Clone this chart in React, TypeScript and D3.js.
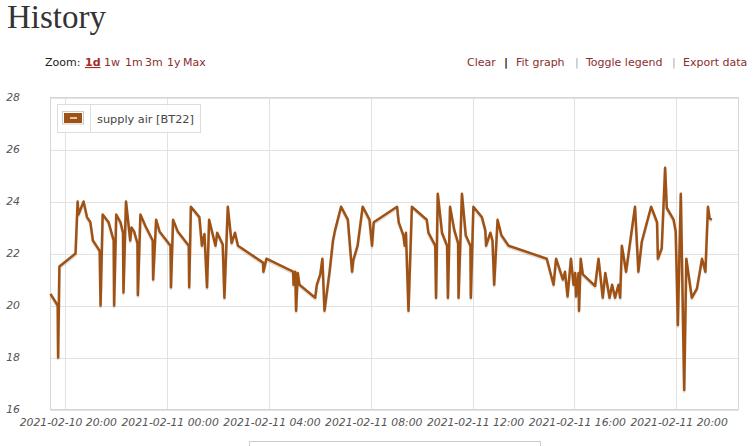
import React from "react";
import * as d3 from "d3";

const times: string[] = [
  "2021-02-10 19:25", "2021-02-10 19:42", "2021-02-10 19:43", "2021-02-10 19:46", "2021-02-10 20:24",
  "2021-02-10 20:29", "2021-02-10 20:31", "2021-02-10 20:43", "2021-02-10 20:51", "2021-02-10 20:59",
  "2021-02-10 21:05", "2021-02-10 21:21", "2021-02-10 21:23", "2021-02-10 21:28", "2021-02-10 21:42",
  "2021-02-10 21:54", "2021-02-10 21:55", "2021-02-10 22:00", "2021-02-10 22:10", "2021-02-10 22:16",
  "2021-02-10 22:17", "2021-02-10 22:23", "2021-02-10 22:33", "2021-02-10 22:36", "2021-02-10 22:42",
  "2021-02-10 22:50", "2021-02-10 22:51", "2021-02-10 22:57", "2021-02-10 23:09", "2021-02-10 23:26",
  "2021-02-10 23:27", "2021-02-10 23:34", "2021-02-10 23:42", "2021-02-11 00:08", "2021-02-11 00:09",
  "2021-02-11 00:14", "2021-02-11 00:25", "2021-02-11 00:51", "2021-02-11 00:52", "2021-02-11 00:56",
  "2021-02-11 01:16", "2021-02-11 01:22", "2021-02-11 01:28", "2021-02-11 01:34", "2021-02-11 01:39",
  "2021-02-11 01:54", "2021-02-11 01:58", "2021-02-11 02:11", "2021-02-11 02:15", "2021-02-11 02:23",
  "2021-02-11 02:32", "2021-02-11 02:40", "2021-02-11 02:47", "2021-02-11 03:46", "2021-02-11 03:47",
  "2021-02-11 03:54", "2021-02-11 04:57", "2021-02-11 04:58", "2021-02-11 05:02", "2021-02-11 05:04",
  "2021-02-11 05:08", "2021-02-11 05:12", "2021-02-11 05:49", "2021-02-11 05:53", "2021-02-11 06:01",
  "2021-02-11 06:06", "2021-02-11 06:11", "2021-02-11 06:23", "2021-02-11 06:31", "2021-02-11 06:36",
  "2021-02-11 06:50", "2021-02-11 07:06", "2021-02-11 07:16", "2021-02-11 07:19", "2021-02-11 07:29",
  "2021-02-11 07:41", "2021-02-11 07:57", "2021-02-11 08:03", "2021-02-11 08:07", "2021-02-11 09:02",
  "2021-02-11 09:06", "2021-02-11 09:17", "2021-02-11 09:20", "2021-02-11 09:23", "2021-02-11 09:29",
  "2021-02-11 09:37", "2021-02-11 10:12", "2021-02-11 10:16", "2021-02-11 10:32", "2021-02-11 10:34",
  "2021-02-11 10:38", "2021-02-11 10:48", "2021-02-11 11:00", "2021-02-11 11:02", "2021-02-11 11:07",
  "2021-02-11 11:17", "2021-02-11 11:26", "2021-02-11 11:27", "2021-02-11 11:35", "2021-02-11 11:44",
  "2021-02-11 11:55", "2021-02-11 11:56", "2021-02-11 12:02", "2021-02-11 12:22", "2021-02-11 12:30",
  "2021-02-11 12:32", "2021-02-11 12:42", "2021-02-11 12:47", "2021-02-11 12:51", "2021-02-11 12:59",
  "2021-02-11 13:08", "2021-02-11 13:25", "2021-02-11 14:55", "2021-02-11 15:11", "2021-02-11 15:17",
  "2021-02-11 15:33", "2021-02-11 15:38", "2021-02-11 15:44", "2021-02-11 15:52", "2021-02-11 15:58",
  "2021-02-11 16:02", "2021-02-11 16:04", "2021-02-11 16:10", "2021-02-11 16:11", "2021-02-11 16:15",
  "2021-02-11 16:20", "2021-02-11 16:49", "2021-02-11 16:57", "2021-02-11 17:07", "2021-02-11 17:13",
  "2021-02-11 17:23", "2021-02-11 17:29", "2021-02-11 17:36", "2021-02-11 17:44", "2021-02-11 17:48",
  "2021-02-11 17:52", "2021-02-11 18:02", "2021-02-11 18:23", "2021-02-11 18:31", "2021-02-11 18:39",
  "2021-02-11 19:01", "2021-02-11 19:15", "2021-02-11 19:17", "2021-02-11 19:26", "2021-02-11 19:34",
  "2021-02-11 19:38", "2021-02-11 19:54", "2021-02-11 19:59", "2021-02-11 20:04", "2021-02-11 20:11",
  "2021-02-11 20:19", "2021-02-11 20:24", "2021-02-11 20:37", "2021-02-11 20:49", "2021-02-11 21:01",
  "2021-02-11 21:09", "2021-02-11 21:15", "2021-02-11 21:19", "2021-02-11 21:24",
];

const supplyAir: number[] = [
  20.45, 20.0, 18.0, 21.5, 22.0,
  24.0, 23.5, 24.0, 23.4, 23.2,
  22.5, 22.1, 20.0, 23.5, 23.2,
  22.5, 20.0, 23.5, 23.2, 22.8,
  20.5, 24.0, 22.5, 23.0, 22.85,
  22.4, 20.4, 23.5, 23.05, 22.5,
  21.0, 23.3, 22.85, 22.3, 20.7,
  23.3, 22.85, 22.3, 20.7, 23.8,
  23.4, 22.3, 22.75, 20.7, 23.3,
  22.3, 22.8, 22.35, 20.3, 23.8,
  22.4, 22.8, 22.3, 21.65, 21.3,
  21.8, 21.3, 20.8, 21.3, 19.8,
  21.25, 20.8, 20.3, 20.8, 21.2,
  21.8, 19.8, 21.3, 22.5, 22.9,
  23.8, 23.3, 21.3, 21.75, 22.3,
  23.8, 23.3, 22.3, 23.2, 23.8,
  23.2, 22.7, 22.3, 22.8, 19.8,
  23.8, 23.3, 22.8, 22.3, 20.3,
  24.3, 22.8, 22.3, 20.3, 23.8,
  22.9, 22.4, 20.3, 24.3, 22.7,
  22.3, 20.3, 23.8, 23.4, 22.9,
  22.3, 22.8, 22.5, 20.8, 23.3,
  22.7, 22.3, 21.8, 20.8, 21.8,
  21.0, 21.3, 20.35, 21.8, 20.8,
  21.25, 20.35, 21.25, 19.8, 21.8,
  21.2, 20.75, 21.8, 20.3, 21.25,
  20.3, 20.8, 20.3, 20.8, 20.3,
  22.3, 21.3, 23.8, 21.3, 22.45,
  23.8, 23.2, 21.8, 22.2, 25.3,
  23.75, 23.3, 22.85, 19.25, 24.3,
  16.75, 21.8, 20.3, 20.65, 21.8,
  21.3, 23.8, 23.35, 23.3,
];

const xDomain: string[] = ["2021-02-10 19:25", "2021-02-11 22:27"];
const yDomain: number[] = [16, 28];
const yTicks: number[] = [16, 18, 20, 22, 24, 26, 28];
const seriesName = "supply air [BT22]";
const zoomLinks: string[] = ["1w", "1m", "3m", "1y", "Max"];
const actionLinks: string[] = ["Clear", "Fit graph", "Toggle legend", "Export data"];

const parse = d3.timeParse("%Y-%m-%d %H:%M");
const fmt = d3.timeFormat("%Y-%m-%d %H:%M");

export default function App() {
  const W = 754, H = 446;
  const left = 50.5, right = 738.5, top = 97.5, bottom = 409.5;
  const x = d3.scaleTime().domain(xDomain.map((s) => parse(s) as Date)).range([left, right]);
  const y = d3.scaleLinear().domain(yDomain).range([bottom, top]);
  const data = times.map((t, i) => ({ t: parse(t) as Date, v: supplyAir[i] }));
  const line = d3.line<{ t: Date; v: number }>().x((d) => x(d.t)).y((d) => y(d.v));
  const path = line(data) || "";
  const xTicks = x.ticks(d3.timeHour.every(4) as any);
  const lineColor = "#a05214";
  const uiFont = "'DejaVu Sans', Verdana, sans-serif";
  const linkColor = "#8a2e2e";

  const zoomX = [104, 125, 145, 167, 183];
  const actX = [467, 516, 586, 683];
  const sepX = [504, 575, 672];

  return (
    <svg width={W} height={H} style={{ position: "absolute", left: 0, top: 0, background: "#fff" }}>
      <text x={7} y={28} fontFamily="'Liberation Serif', 'Times New Roman', serif" fontSize={33} fill="#333">History</text>
      <g fontFamily={uiFont} fontSize={11}>
        <text x={45} y={66} fill="#222">Zoom:</text>
        <text x={85} y={66} fill="#a52a2a" fontWeight="bold" textDecoration="underline">1d</text>
        {zoomLinks.map((z, i) => (
          <text key={z} x={zoomX[i]} y={66} fill={linkColor}>{z}</text>
        ))}
        {actionLinks.map((a, i) => (
          <text key={a} x={actX[i]} y={66} fill={linkColor}>{a}</text>
        ))}
        {sepX.map((sx, i) => (
          <text key={i} x={sx} y={66} fill={i === 0 ? "#222" : "#aaa"} fontWeight={i === 0 ? "bold" : "normal"}>|</text>
        ))}
      </g>

      {/* grid */}
      <g stroke="#e2e2e2" strokeWidth={1}>
        {yTicks.map((t) => (
          <line key={"h" + t} x1={left} x2={right} y1={Math.round(y(t)) + 0.5} y2={Math.round(y(t)) + 0.5} />
        ))}
        {xTicks.map((t) => (
          <line key={"v" + t.getTime()} x1={Math.round(x(t)) + 0.5} x2={Math.round(x(t)) + 0.5} y1={top} y2={bottom} />
        ))}
      </g>
      <rect x={left} y={top} width={right - left} height={bottom - top} fill="none" stroke="#d6d6d6" strokeWidth={1} />

      {/* axis labels */}
      <g fontFamily={uiFont} fontSize={10.8} fontStyle="italic" fill="#555">
        {yTicks.map((t) => (
          <text key={"yl" + t} x={20} y={y(t)} textAnchor="end" dominantBaseline="middle">{t}</text>
        ))}
        {xTicks.map((t) => (
          <text key={"xl" + t.getTime()} x={x(t) + 3} y={426} textAnchor="middle">{fmt(t)}</text>
        ))}
      </g>

      {/* series */}
      <path d={path} fill="none" stroke="rgba(0,0,0,0.12)" strokeWidth={3} transform="translate(0,1.5)" strokeLinejoin="round" />
      <path d={path} fill="none" stroke={lineColor} strokeWidth={2.5} strokeLinejoin="round" />

      {/* legend */}
      <g>
        <rect x={57.5} y={104.5} width={143} height={28} fill="#fff" fillOpacity={0.85} stroke="#ddd" />
        <line x1={90.5} x2={90.5} y1={104.5} y2={132.5} stroke="#ddd" />
        <rect x={62.5} y={111.5} width={21} height={12.5} fill="#fff" stroke="#ccc" />
        <rect x={64} y={113} width={18} height={10} fill={lineColor} />
        <line x1={70} x2={77} y1={118} y2={118} stroke="#fff" strokeWidth={1.3} />
        <text x={97} y={123} fontFamily={uiFont} fontSize={11.3} fill="#444">{seriesName}</text>
      </g>

      {/* bottom box */}
      <rect x={249.5} y={441.5} width={291} height={20} fill="none" stroke="#ccc" />
    </svg>
  );
}
